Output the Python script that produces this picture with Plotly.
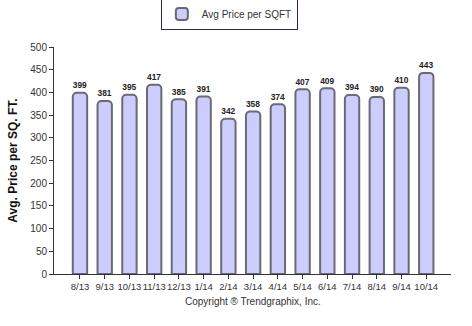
import plotly.graph_objects as go

months = ["8/13", "9/13", "10/13", "11/13", "12/13", "1/14", "2/14", "3/14",
          "4/14", "5/14", "6/14", "7/14", "8/14", "9/14", "10/14"]
avg_price = [399, 381, 395, 417, 385, 391, 342, 358, 374, 407, 409, 394, 390, 410, 443]
y_ticks = [0, 50, 100, 150, 200, 250, 300, 350, 400, 450, 500]

FONT = "Liberation Sans, Arial, sans-serif"

fig = go.Figure()
fig.add_trace(go.Bar(
    x=list(range(len(months))), y=avg_price, name="Avg Price per SQFT",
    marker=dict(color="#ccccff", line=dict(color="#6a6a72", width=2)),
    width=0.58,
    texttemplate="<b>%{y}</b>", textposition="outside",
    textfont=dict(family=FONT, size=10, color="#222222"),
    cliponaxis=False,
))

fig.update_layout(
    width=472, height=326,
    margin=dict(l=48, r=21, t=42, b=52),
    paper_bgcolor="white", plot_bgcolor="white",
    barcornerradius=4,
    showlegend=True,
    legend=dict(orientation="h", x=(226 - 48) / (472 - 48 - 21), xanchor="center",
                y=1 - 14 / 326, yanchor="middle", yref="container",
                bordercolor="#2a2a50", borderwidth=1,
                font=dict(family=FONT, size=10, color="#333333"),
                itemwidth=30),
    xaxis=dict(
        range=[-1.05, 15.0],
        tickmode="array", tickvals=list(range(len(months))), ticktext=months,
        tickangle=0,
        showline=True, linecolor="#333333", linewidth=1,
        ticks="outside", ticklen=4, tickcolor="#333333",
        showgrid=False, zeroline=False,
        tickfont=dict(family=FONT, size=9.5, color="#333333"),
    ),
    yaxis=dict(
        range=[0, 500], tickvals=y_ticks,
        showline=True, linecolor="#333333", linewidth=1,
        ticks="outside", ticklen=4, tickcolor="#333333",
        showgrid=False, zeroline=False,
        tickfont=dict(family=FONT, size=10, color="#333333"),
        title=dict(text="<b>Avg. Price per SQ. FT.</b>", standoff=10,
                   font=dict(family=FONT, size=12, color="#111111")),
    ),
    annotations=[dict(text="Copyright \u00ae Trendgraphix, Inc.",
                      xref="paper", x=(250 - 48) / (472 - 48 - 21),
                      yref="paper", y=-(302 - 274) / (274 - 42),
                      xanchor="center", yanchor="middle", showarrow=False,
                      font=dict(family=FONT, size=10, color="#333333"))],
)

fig.write_html("out.html")
